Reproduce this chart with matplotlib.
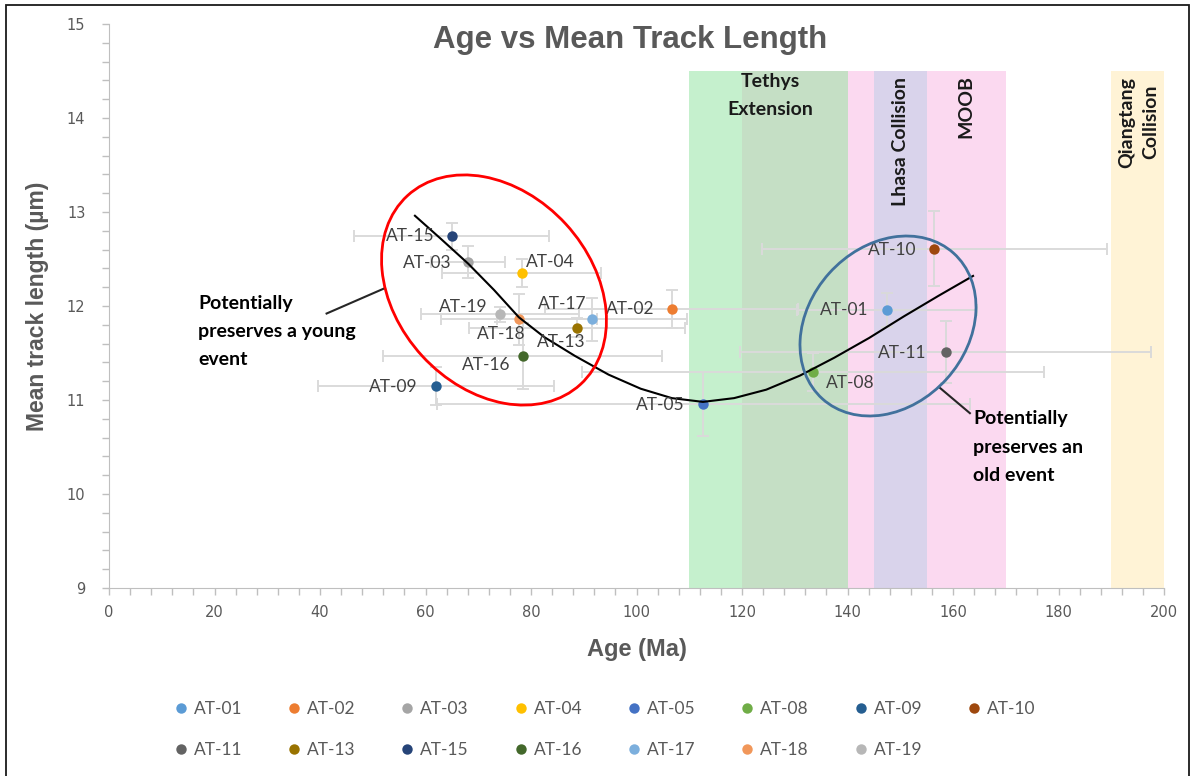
import matplotlib
matplotlib.use("Agg")
from matplotlib import pyplot as plt
from matplotlib.patches import Ellipse, Rectangle
from matplotlib.ticker import MultipleLocator

# AFT results per sample
samples = ['AT-01', 'AT-02', 'AT-03', 'AT-04', 'AT-05', 'AT-08', 'AT-09', 'AT-10',
           'AT-11', 'AT-13', 'AT-15', 'AT-16', 'AT-17', 'AT-18', 'AT-19']
age = [147.5, 106.7, 68.1, 78.2, 112.7, 133.5, 62.0, 156.4,
       158.6, 88.7, 65.0, 78.4, 91.5, 77.7, 74.1]
age_err = [17.0, 24.0, 7.0, 15.0, 50.6, 43.8, 22.3, 32.7,
           39.0, 20.5, 18.5, 26.5, 18.0, 14.8, 15.0]
mtl = [11.96, 11.97, 12.47, 12.35, 10.96, 11.30, 11.15, 12.61,
       11.51, 11.77, 12.74, 11.47, 11.86, 11.86, 11.91]
mtl_err = [0.18, 0.20, 0.17, 0.15, 0.34, 0.20, 0.20, 0.40,
           0.33, 0.10, 0.14, 0.35, 0.23, 0.27, 0.08]
colours = ['#5B9BD5', '#ED7D31', '#A5A5A5', '#FFC000', '#4472C4', '#70AD47', '#255E91', '#9E480E',
           '#636363', '#997300', '#264478', '#43682B', '#7CAFDD', '#F1975A', '#B7B7B7']
# where each data label sits relative to its point (pixels)
label_offset = [(-43, 0), (-42, 0), (-41, -1), (29, 11), (-43, -1), (37, -11), (-43, -1), (-42, -1),
                (-43, -1), (-16, -14), (-42, 0), (-36, -9), (-29, 15), (-18, -15), (-37, 7)]

# hand drawn trend through the ages
trend_age = [58.0, 63.0, 68.1, 73.0, 77.7, 82.5, 88.3, 94.7, 100.8, 106.7, 112.6,
             118.5, 124.6, 131.0, 137.5, 144.1, 150.7, 157.3, 163.8]
trend_mtl = [12.96, 12.71, 12.45, 12.17, 11.88, 11.67, 11.47, 11.27, 11.12, 11.02, 10.98,
             11.02, 11.11, 11.26, 11.45, 11.66, 11.89, 12.11, 12.32]

# tectonic event windows (Ma)
band_start = [110, 120, 140, 145, 155, 190]
band_end = [120, 140, 145, 155, 170, 200]
band_colour = ['#c5f0cd', '#c5dfc5', '#fbd9f0', '#d9d3eb', '#fbd9f0', '#fff3d6']
band_top = 14.5

W, H = 1192, 776
fig = plt.figure(figsize=(W / 100, H / 100), dpi=100)
ax = fig.add_axes([109 / W, 1 - 588 / H, (1164 - 109) / W, (588 - 24) / H])

def px(x, y):
    # figure pixel position (from top-left) -> inches for dpi_scale_trans
    return x / 100, (H - y) / 100

for s, e, c in zip(band_start, band_end, band_colour):
    ax.axvspan(s, e, ymin=0, ymax=(band_top - 9) / 6, color=c, lw=0, zorder=0)

ax.errorbar(age, mtl, xerr=age_err, yerr=mtl_err, fmt='none', ecolor='#dadada',
            elinewidth=1.4, capsize=4, capthick=1.4, zorder=2)

handles = []
for i in range(len(samples)):
    h, = ax.plot(age[i], mtl[i], 'o', color=colours[i], markersize=7.5, mec='none', zorder=3,
                 label=samples[i])
    handles.append(h)
    ax.annotate(samples[i], (age[i], mtl[i]), xytext=label_offset[i], textcoords='offset pixels',
                ha='center', va='center', fontsize=12.5, family='Lato', color='#404040', zorder=5)

ax.plot(trend_age, trend_mtl, color='black', lw=1.5, zorder=4, solid_joinstyle='round')

ax.set_xlim(0, 200)
ax.set_ylim(9, 15)
ax.xaxis.set_major_locator(MultipleLocator(20))
ax.xaxis.set_minor_locator(MultipleLocator(4))
ax.yaxis.set_major_locator(MultipleLocator(1))
ax.yaxis.set_minor_locator(MultipleLocator(0.2))
for side in ['top', 'right']:
    ax.spines[side].set_visible(False)
for side in ['left', 'bottom']:
    ax.spines[side].set_color('#bfbfbf')
ax.tick_params(which='both', direction='out', length=5, color='#bfbfbf', width=1)
ax.tick_params(axis='x', which='major', pad=7, labelsize=10.5, labelcolor='#595959')
ax.tick_params(axis='y', which='major', pad=12, labelsize=10.5, labelcolor='#595959')

ax.set_xlabel('Age (Ma)', fontsize=17, fontweight='bold', color='#595959', family='Liberation Sans')
ax.xaxis.set_label_coords(0.5, -0.088)
ax.set_ylabel('Mean track length (µm)', fontsize=16.5, fontweight='bold', color='#595959',
              family='Liberation Sans')
ax.yaxis.set_label_coords(-0.057, 0.5)
fig.text(630 / W, 1 - 40 / H, 'Age vs Mean Track Length', ha='center', va='center',
         fontsize=22.5, fontweight='bold', color='#595959', family='Liberation Sans')

# band labels
band_font = dict(fontsize=14, fontweight='bold', family='Lato', color='#1a1a1a', zorder=1)
ax.text(125.3, 14.24, 'Tethys\nExtension', ha='center', va='center', linespacing=1.8, **band_font)
ax.text(150, 14.44, 'Lhasa Collision', ha='center', va='top', rotation=90, **band_font)
ax.text(162.5, 14.46, 'MOOB', ha='center', va='top', rotation=90, **band_font)
ax.text(195.3, 14.44, 'Qiangtang\nCollision', ha='center', va='top', rotation=90,
        multialignment='center', linespacing=1.5, **band_font)

# grouping ellipses and their notes
fig.add_artist(Ellipse(px(494, 290), 2.56, 1.95, angle=-47.5, fill=False, ec='#ff0000', lw=2,
                       transform=fig.dpi_scale_trans))
fig.add_artist(Ellipse(px(888, 326), 1.96, 1.58, angle=48, fill=False, ec='#41719c', lw=2,
                       transform=fig.dpi_scale_trans))
ax.plot([41.25, 52.3], [11.92, 12.19], color='#262626', lw=1.5, zorder=4, clip_on=False)
ax.plot([157.5, 163.2], [11.13, 10.86], color='#262626', lw=1.5, zorder=4, clip_on=False)
note_font = dict(fontsize=14, fontweight='bold', family='Lato', color='black', linespacing=1.8)
ax.text(16.9, 11.73, 'Potentially\npreserves a young\nevent', ha='left', va='center', **note_font)
ax.text(163.8, 10.50, 'Potentially\npreserves an\nold event', ha='left', va='center', **note_font)

# legend in two rows, filled row by row
order = [0, 8, 1, 9, 2, 10, 3, 11, 4, 12, 5, 13, 6, 14, 7]
leg = fig.legend([handles[i] for i in order], [samples[i] for i in order], ncol=8,
                 loc='upper left', bbox_to_anchor=(165 / W, 1 - 692 / H), frameon=False,
                 prop={'family': 'Lato', 'size': 12.5}, markerscale=1.0, handlelength=0.8,
                 handletextpad=0.35, columnspacing=2.58, labelspacing=1.45, borderpad=0)
for t in leg.get_texts():
    t.set_color('#595959')

# outer frame
fig.add_artist(Rectangle(px(6, 790), 1183 / 100, 785 / 100, fill=False, ec='#1a1a1a', lw=1.3,
                         transform=fig.dpi_scale_trans))

fig.savefig('out.png', dpi=100)
